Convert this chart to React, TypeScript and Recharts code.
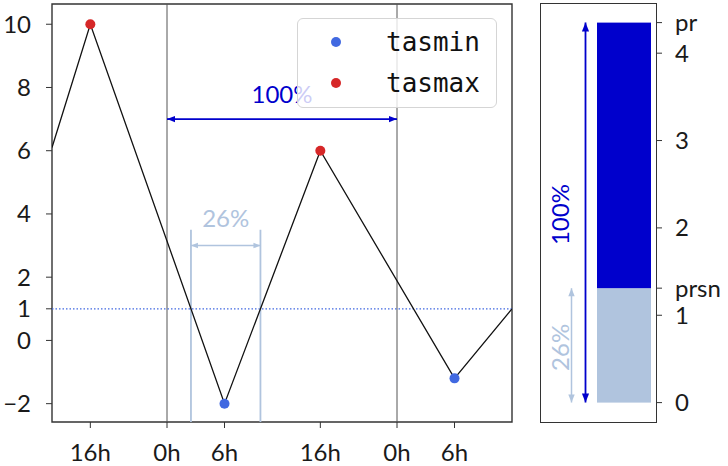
import React from "react";
import {
  ComposedChart,
  Line,
  Scatter,
  XAxis,
  YAxis,
  ReferenceLine,
  ReferenceArea,
  Legend,
  BarChart,
  Bar,
} from "recharts";

const FONT = "Lato, 'Open Sans', sans-serif";
const MONO = "'DejaVu Sans Mono', monospace";
const INK = "#1a1a1a";

// temperature course, hours counted from midnight of day 1
const hours = [12, 16, 30, 40, 54, 60];
const tas = [6.1, 10, -2, 6, -1.2, 1];
const tasminHours = [30, 54];
const tasminValues = [-2, -1.2];
const tasmaxHours = [16, 40];
const tasmaxValues = [10, 6];
const xTicks = [16, 24, 30, 40, 48, 54];
const yTicks = [-2, 0, 1, 2, 4, 6, 8, 10];
const midnights = [24, 48];
const freezeWindow = [26.5, 33.75];
const threshold = 1;
const dayShare = "100%";
const freezeShare = "26%";

// precipitation column
const precipNames = ["pr"];
const prValues = [4.35];
const prsnValues = [1.31];
const prTicks = [0, 1, 2, 3, 4];

const series = [
  { name: "tasmin", color: "#4169e1" },
  { name: "tasmax", color: "#d62728" },
];

const tempData = hours.map((t, i) => ({ t, v: tas[i] }));
const minPts = tasminHours.map((t, i) => ({ t, v: tasminValues[i] }));
const maxPts = tasmaxHours.map((t, i) => ({ t, v: tasmaxValues[i] }));
const precipData = precipNames.map((name, i) => ({
  name,
  prsn: prsnValues[i],
  rain: prValues[i] - prsnValues[i],
}));

const tY: [number, number] = [-2.58, 10.64];
const pY: [number, number] = [-0.222, 4.563];

const tickStyle = { fill: INK, fontSize: 24, fontFamily: FONT };

// double-headed arrow between two points, label next to it
function Arrow(props: {
  x1: number;
  y1: number;
  x2: number;
  y2: number;
  color: string;
  width: number;
  head: number;
  label: string;
  dx: number;
  dy: number;
  rotate?: boolean;
}) {
  const { x1, y1, x2, y2, color, width, head, label, dx, dy, rotate } = props;
  const len = Math.hypot(x2 - x1, y2 - y1) || 1;
  const ux = (x2 - x1) / len;
  const uy = (y2 - y1) / len;
  const hw = head * 0.4;
  const tri = (x: number, y: number, s: number) => {
    const bx = x - s * ux * head;
    const by = y - s * uy * head;
    return `${x},${y} ${bx - uy * hw},${by + ux * hw} ${bx + uy * hw},${by - ux * hw}`;
  };
  const mx = (x1 + x2) / 2 + dx;
  const my = (y1 + y2) / 2 + dy;
  return (
    <g>
      <line x1={x1} y1={y1} x2={x2} y2={y2} stroke={color} strokeWidth={width} />
      <polygon points={tri(x2, y2, 1)} fill={color} />
      <polygon points={tri(x1, y1, -1)} fill={color} />
      <text
        x={mx}
        y={my}
        fill={color}
        fontSize={24}
        fontFamily={FONT}
        textAnchor="middle"
        dominantBaseline="central"
        transform={rotate ? `rotate(-90 ${mx} ${my})` : undefined}
      >
        {label}
      </text>
    </g>
  );
}

const arrowShape =
  (color: string, width: number, head: number, label: string, dx: number, dy: number) =>
  (p: any) =>
    <Arrow x1={p.x1} y1={p.y1} x2={p.x2} y2={p.y2} color={color} width={width} head={head} label={label} dx={dx} dy={dy} />;

// snow part of the column, with its share arrow on the left
const snowBar = (p: any) => (
  <g>
    <rect x={p.x} y={p.y} width={p.width} height={p.height} fill="#b0c4de" />
    <Arrow
      x1={p.x - 25.5}
      y1={p.y}
      x2={p.x - 25.5}
      y2={p.y + p.height}
      color="#b0c4de"
      width={1.5}
      head={8}
      label={freezeShare}
      dx={-12}
      dy={2}
      rotate
    />
  </g>
);

// rain part of the column; the total arrow runs down to the base of the stack
const rainBar = (p: any) => {
  const base = p.y + p.height + (p.height * p.payload.prsn) / p.payload.rain;
  return (
    <g>
      <rect x={p.x} y={p.y} width={p.width} height={p.height} fill="#0000cc" />
      <Arrow
        x1={p.x - 11.5}
        y1={p.y}
        x2={p.x - 11.5}
        y2={base}
        color="#0000cc"
        width={1.8}
        head={9}
        label={dayShare}
        dx={-26}
        dy={2}
        rotate
      />
    </g>
  );
};

const legendBox = () => (
  <div
    style={{
      background: "rgba(255,255,255,0.8)",
      border: "1px solid #d5d5d5",
      borderRadius: 6,
      width: 200,
      height: 90,
      boxSizing: "border-box",
      paddingTop: 2,
    }}
  >
    {series.map((s) => (
      <div key={s.name} style={{ display: "flex", alignItems: "center", height: 41 }}>
        <span
          style={{
            width: 10,
            height: 10,
            borderRadius: 5,
            background: s.color,
            marginLeft: 33,
          }}
        />
        <span style={{ marginLeft: 45, font: `26px ${MONO}`, color: "#111" }}>{s.name}</span>
      </div>
    ))}
  </div>
);

const dot = (color: string) => (p: any) => <circle cx={p.cx} cy={p.cy} r={5} fill={color} />;

export default function App() {
  const pTicks = [...prTicks, prsnValues[0], prValues[0]].sort((a, b) => a - b);
  return (
    <div style={{ position: "absolute", left: 0, top: 0, width: 728, height: 466, background: "#fff" }}>
      <div style={{ position: "absolute", left: 0, top: 0 }}>
        <ComposedChart width={520} height={466} data={tempData} margin={{ top: 4, right: 8, bottom: 0, left: 0 }}>
          <XAxis
            dataKey="t"
            type="number"
            domain={[12, 60]}
            allowDataOverflow
            ticks={xTicks}
            interval={0}
            tickFormatter={(t: number) => `${t % 24}h`}
            axisLine={false}
            tickLine={{ stroke: "#333" }}
            tickSize={6}
            tickMargin={16}
            height={44}
            tick={tickStyle}
          />
          <YAxis
            dataKey="v"
            type="number"
            domain={tY}
            allowDataOverflow
            ticks={yTicks}
            interval={0}
            tickFormatter={(v: number) => (v < 0 ? `\u2212${Math.abs(v)}` : `${v}`)}
            axisLine={false}
            tickLine={{ stroke: "#333" }}
            tickSize={6}
            tickMargin={15}
            width={52}
            tick={tickStyle}
          />
          {midnights.map((m) => (
            <ReferenceLine key={m} x={m} stroke="#555" strokeWidth={1} />
          ))}
          <ReferenceLine y={threshold} stroke="#4169e1" strokeWidth={1.2} strokeDasharray="1.5 2" />
          {freezeWindow.map((w) => (
            <ReferenceLine
              key={w}
              segment={[
                { x: w, y: 3.5 },
                { x: w, y: tY[0] },
              ]}
              stroke="#b0c4de"
              strokeWidth={1.8}
            />
          ))}
          <ReferenceLine
            segment={[
              { x: freezeWindow[0], y: 3 },
              { x: freezeWindow[1], y: 3 },
            ]}
            shape={arrowShape("#b0c4de", 1.5, 7, freezeShare, 0, -28)}
          />
          <ReferenceLine
            segment={[
              { x: midnights[0], y: 7 },
              { x: midnights[1], y: 7 },
            ]}
            shape={arrowShape("#0000cc", 1.8, 8, dayShare, 0, -26)}
          />
          <Line dataKey="v" stroke="#111" strokeWidth={1.3} dot={false} isAnimationActive={false} />
          <Scatter data={minPts} dataKey="v" shape={dot(series[0].color)} isAnimationActive={false} />
          <Scatter data={maxPts} dataKey="v" shape={dot(series[1].color)} isAnimationActive={false} />
          <ReferenceArea
            x1={12}
            x2={60}
            y1={tY[0]}
            y2={tY[1]}
            fill="none"
            fillOpacity={0}
            stroke="#333"
            strokeWidth={1.4}
            ifOverflow="visible"
          />
          <Legend
            layout="horizontal"
            align="center"
            verticalAlign="middle"
            content={legendBox}
            wrapperStyle={{ left: 297, top: 18, width: 200, height: 90 }}
          />
        </ComposedChart>
      </div>
      <div style={{ position: "absolute", left: 520, top: 0 }}>
        <BarChart
          width={208}
          height={466}
          data={precipData}
          margin={{ top: 4, right: 0, bottom: 44, left: 21 }}
          barCategoryGap={0}
        >
          <XAxis dataKey="name" hide height={0} padding={{ left: 56, right: 5 }} />
          <YAxis
            orientation="right"
            type="number"
            domain={pY}
            allowDataOverflow
            ticks={pTicks}
            interval={0}
            tickFormatter={(v: number) =>
              v === prValues[0] ? "pr" : v === prsnValues[0] ? "prsn" : `${v}`
            }
            axisLine={false}
            tickLine={{ stroke: "#333" }}
            tickSize={6}
            tickMargin={13}
            width={72}
            tick={tickStyle}
          />
          <Bar dataKey="prsn" stackId="p" shape={snowBar} isAnimationActive={false} />
          <Bar dataKey="rain" stackId="p" shape={rainBar} isAnimationActive={false} />
        </BarChart>
      </div>
      <div
        style={{
          position: "absolute",
          left: 540,
          top: 3,
          width: 117,
          height: 420,
          border: "1.4px solid #333",
          boxSizing: "border-box",
          pointerEvents: "none",
        }}
      />
    </div>
  );
}
